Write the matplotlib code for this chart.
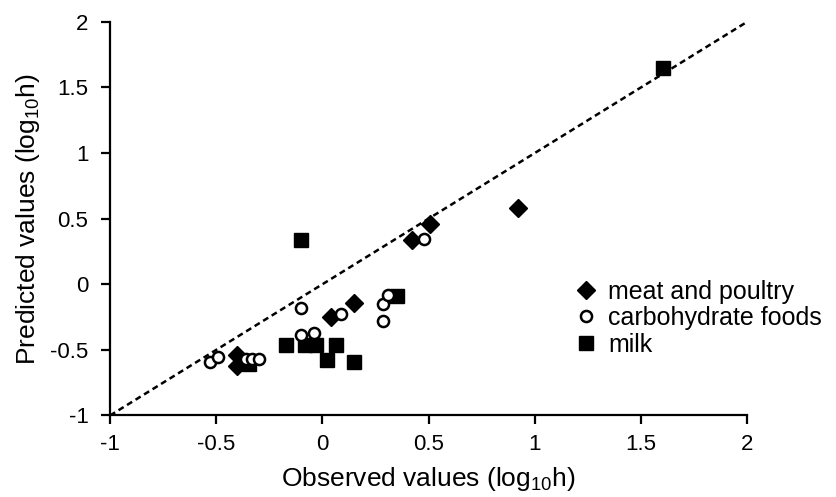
import matplotlib
matplotlib.use("Agg")
import matplotlib.pyplot as plt

plt.rcParams['font.family'] = ['Liberation Sans', 'DejaVu Sans']
plt.rcParams['mathtext.fontset'] = 'custom'
plt.rcParams['mathtext.rm'] = 'Liberation Sans'
plt.rcParams['mathtext.default'] = 'regular'

# data (observed, predicted) in log10 h
meat_x = [-0.40, -0.40, 0.04, 0.15, 0.42, 0.505, 0.92]
meat_y = [-0.54, -0.62, -0.25, -0.14, 0.34, 0.46, 0.58]

carb_x = [-0.53, -0.49, -0.36, -0.33, -0.30, -0.10, -0.10, -0.04, 0.09, 0.285, 0.31, 0.285, 0.478]
carb_y = [-0.59, -0.555, -0.57, -0.57, -0.57, -0.18, -0.39, -0.37, -0.23, -0.15, -0.08, -0.28, 0.345]

milk_x = [-0.345, -0.10, -0.17, -0.08, -0.03, 0.02, 0.065, 0.15, 0.35, 1.605]
milk_y = [-0.61, 0.34, -0.46, -0.46, -0.46, -0.58, -0.46, -0.59, -0.09, 1.645]

line_x = [-1, 2]
line_y = [-1, 2]

xticks = [-1, -0.5, 0, 0.5, 1, 1.5, 2]
yticks = [-1, -0.5, 0, 0.5, 1, 1.5, 2]
tick_labels = ['-1', '-0.5', '0', '0.5', '1', '1.5', '2']

fig = plt.figure(figsize=(8.36, 4.97), dpi=100)
ax = fig.add_axes([0.1316, 0.164, 0.762, 0.792])

ax.plot(line_x, line_y, color='black', lw=1.8, dashes=(2.4, 1.6), zorder=1)

ax.plot(milk_x, milk_y, linestyle='none', marker='s', markersize=10,
        color='black', label='milk', zorder=2)
ax.plot(meat_x, meat_y, linestyle='none', marker='D', markersize=9,
        color='black', label='meat and poultry', zorder=3)
ax.plot(carb_x, carb_y, linestyle='none', marker='o', markersize=8,
        markerfacecolor='white', markeredgecolor='black', markeredgewidth=1.8,
        label='carbohydrate foods', zorder=4)

ax.set_xlim(-1, 2)
ax.set_ylim(-1, 2)
ax.set_xticks(xticks)
ax.set_xticklabels(tick_labels)
ax.set_yticks(yticks)
ax.set_yticklabels(tick_labels)

for s in ['top', 'right']:
    ax.spines[s].set_visible(False)
for s in ['left', 'bottom']:
    ax.spines[s].set_linewidth(1.6)
ax.tick_params(axis='both', direction='out', length=6.5, width=1.6,
               labelsize=16)
ax.tick_params(axis='y', pad=9)
ax.tick_params(axis='x', pad=7)

ax.set_xlabel('Observed values (log$_{10}$h)', fontsize=19, labelpad=7)
ax.set_ylabel('Predicted values (log$_{10}$h)', fontsize=19, labelpad=6)

handles, labels = ax.get_legend_handles_labels()
order = [1, 2, 0]
ax.legend([handles[i] for i in order], [labels[i] for i in order],
          loc='center left', bbox_to_anchor=(576 / 836, 1 - 318 / 497),
          bbox_transform=fig.transFigure, frameon=False, fontsize=18,
          handlelength=0.8, handletextpad=0.5, labelspacing=0.1,
          borderpad=0, borderaxespad=0)

fig.savefig('out.png', dpi=100)
